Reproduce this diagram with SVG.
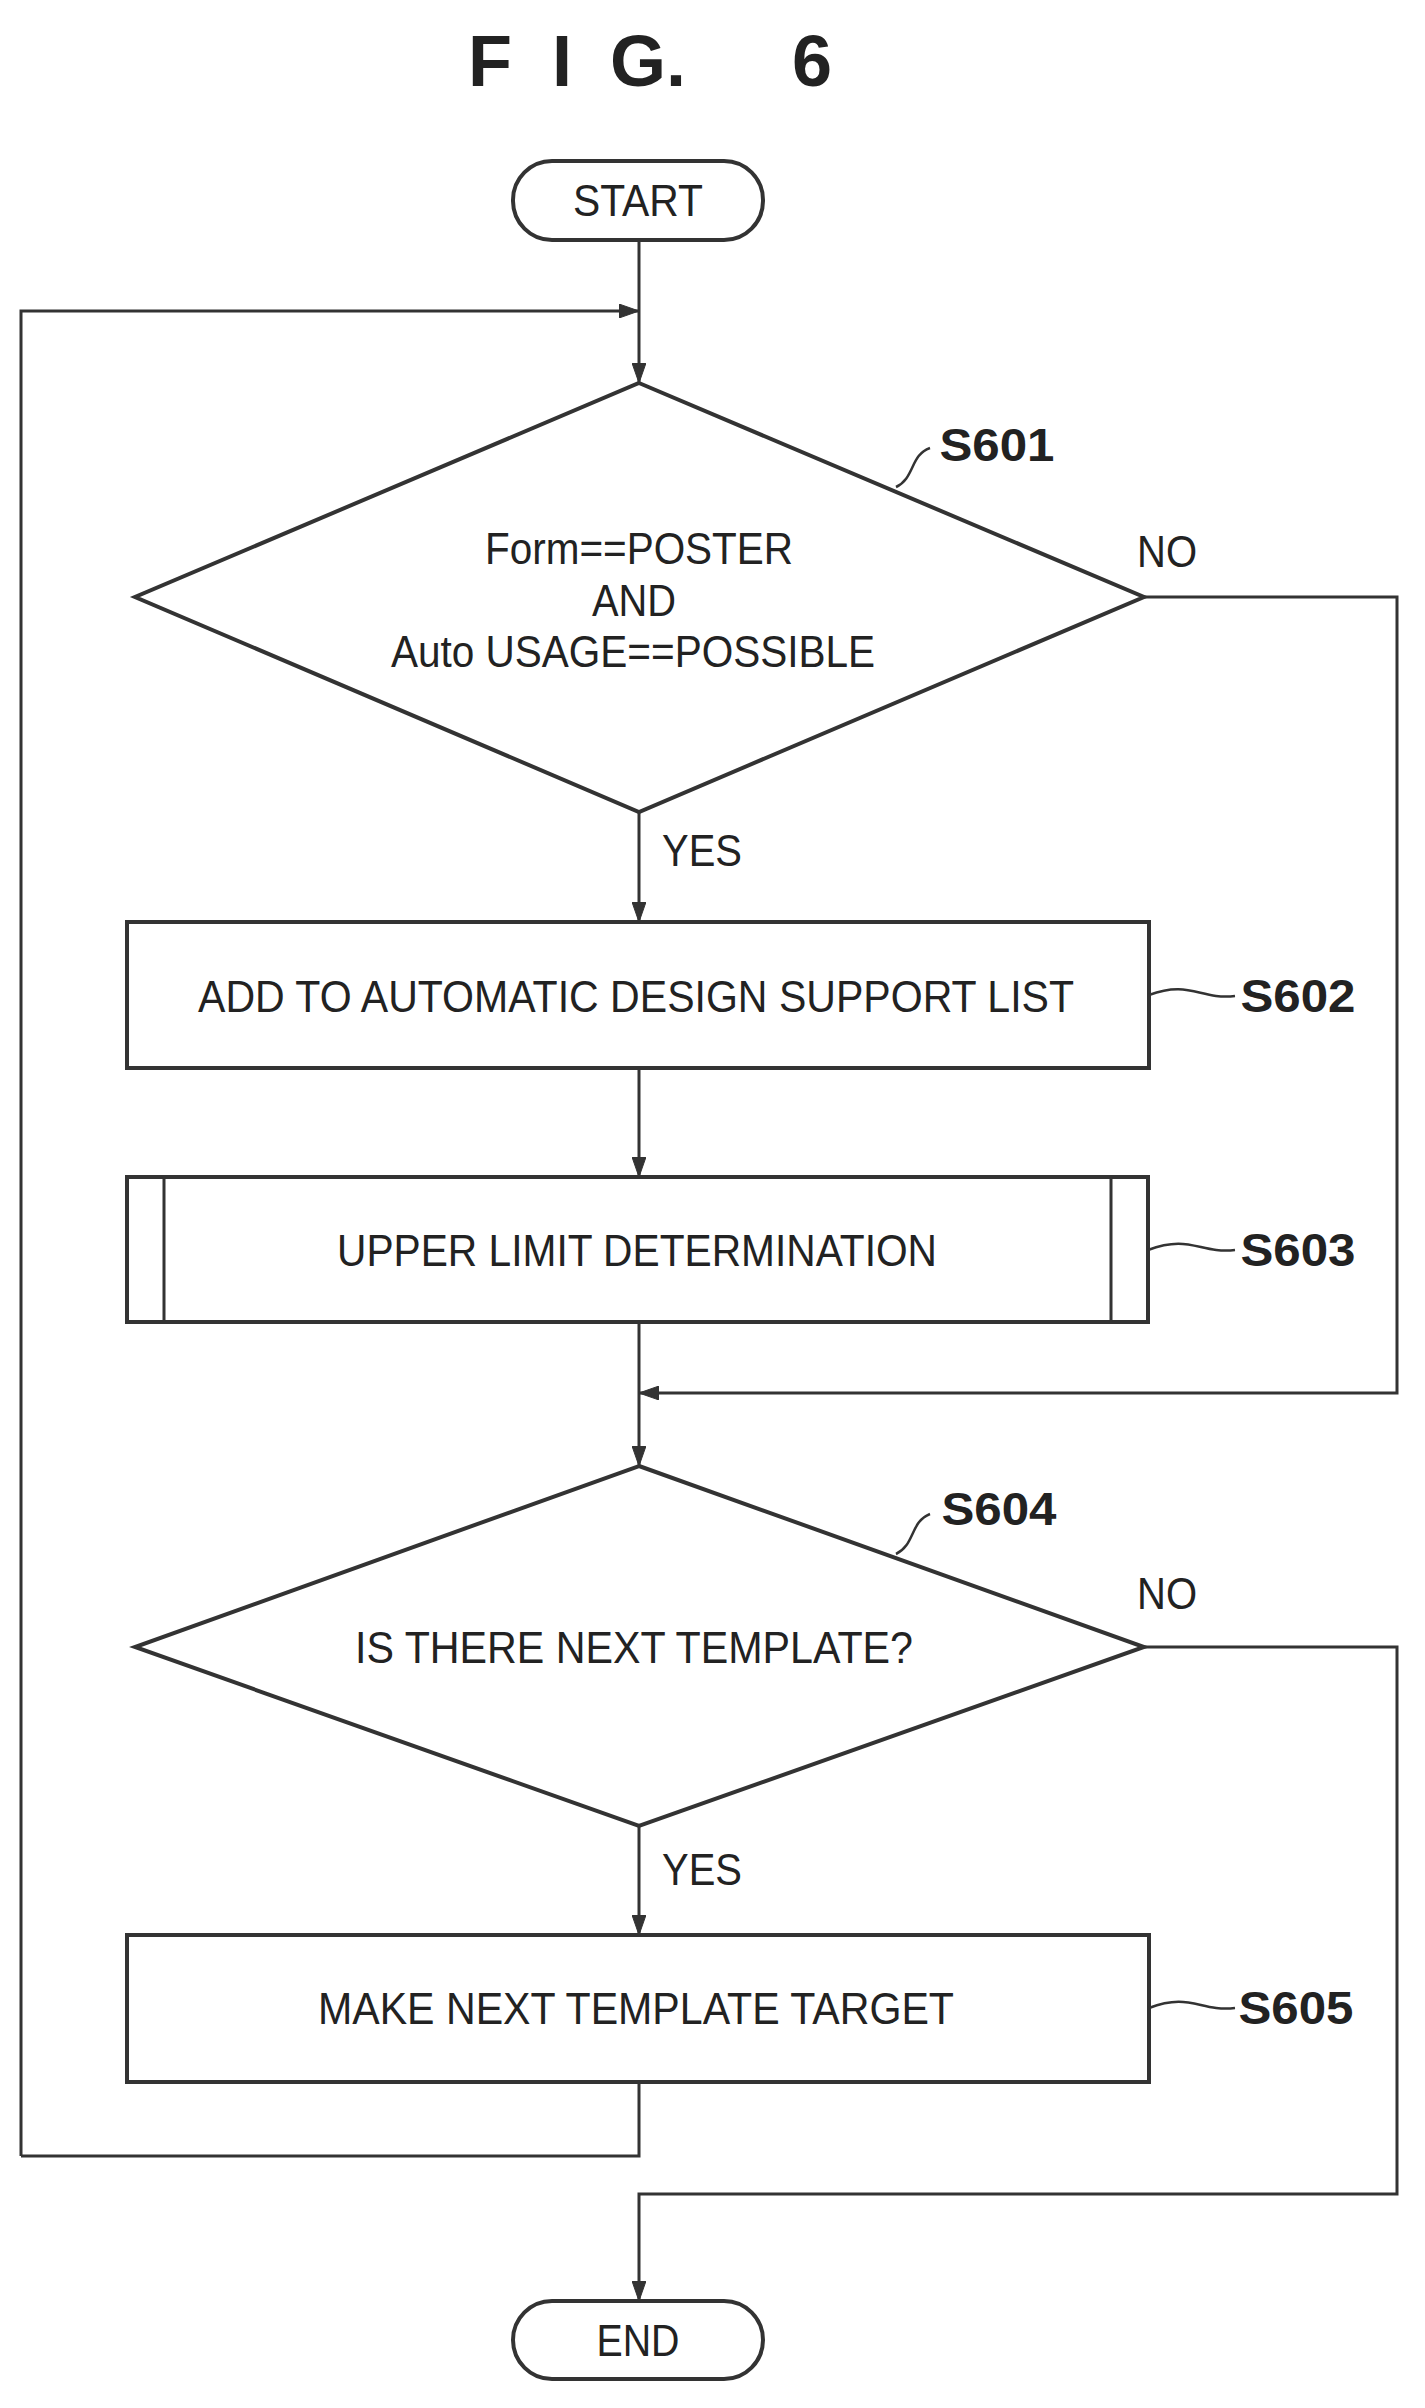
<svg xmlns="http://www.w3.org/2000/svg" width="1425" height="2408" viewBox="0 0 1425 2408">
<defs>
<marker id="ah" viewBox="0 0 20 14" refX="20" refY="7" markerWidth="20" markerHeight="14" markerUnits="userSpaceOnUse" orient="auto">
<path d="M0,0 L20,7 L0,14 Z" fill="#333" stroke="#333" stroke-width="1"/>
</marker>
<style>
.s{fill:none;stroke:#333;stroke-width:3}
.n{fill:#fff;stroke:#333;stroke-width:4}
.t{font-family:"Liberation Sans",Arial,sans-serif;font-size:44px;fill:#222;text-anchor:middle}
.b{font-family:"Liberation Sans",Arial,sans-serif;font-size:46px;font-weight:bold;fill:#222;text-anchor:middle}
.c{fill:none;stroke:#333;stroke-width:2.5}
</style>
</defs>
<rect width="1425" height="2408" fill="#fff"/>
<text x="490" y="86" class="b" style="font-size:72px">F</text>
<text x="562" y="86" class="b" style="font-size:72px">I</text>
<text x="648" y="86" class="b" style="font-size:72px">G.</text>
<text x="812" y="86" class="b" style="font-size:72px">6</text>
<g id="connectors">
<path class="s" d="M639,240 V383" marker-end="url(#ah)"/>
<path class="s" d="M21,2156 V311 H639" marker-end="url(#ah)"/>
<path class="s" d="M639,812 V922" marker-end="url(#ah)"/>
<path class="s" d="M639,1068 V1177" marker-end="url(#ah)"/>
<path class="s" d="M639,1322 V1466" marker-end="url(#ah)"/>
<path class="s" d="M1144,597 H1397 V1393 H639" marker-end="url(#ah)"/>
<path class="s" d="M639,1826 V1935" marker-end="url(#ah)"/>
<path class="s" d="M639,2082 V2156 H21"/>
<path class="s" d="M1144,1647 H1397 V2194 H639 V2301" marker-end="url(#ah)"/>
<text x="1167" y="567" class="t" textLength="60" lengthAdjust="spacingAndGlyphs">NO</text>
<text x="702" y="866" class="t" textLength="80" lengthAdjust="spacingAndGlyphs">YES</text>
<text x="1167" y="1609" class="t" textLength="60" lengthAdjust="spacingAndGlyphs">NO</text>
<text x="702" y="1885" class="t" textLength="80" lengthAdjust="spacingAndGlyphs">YES</text>
</g>
<g id="start">
<rect x="513" y="161" width="250" height="79" rx="39" class="n"/>
<text x="638" y="216" class="t" textLength="130" lengthAdjust="spacingAndGlyphs">START</text>
</g>
<g id="s601">
<polygon points="639,383 1144,597 639,812 135,597" class="n"/>
<text x="639" y="564" class="t" textLength="308" lengthAdjust="spacingAndGlyphs">Form==POSTER</text>
<text x="634" y="616" class="t" textLength="84" lengthAdjust="spacingAndGlyphs">AND</text>
<text x="633" y="667" class="t" textLength="484" lengthAdjust="spacingAndGlyphs">Auto USAGE==POSSIBLE</text>
<path class="c" d="M896,487 C915,478 910,455 930,448"/>
<text x="997" y="461" class="b" textLength="115" lengthAdjust="spacingAndGlyphs">S601</text>
</g>
<g id="s602">
<rect x="127" y="922" width="1022" height="146" class="n"/>
<text x="636" y="1012" class="t" textLength="876" lengthAdjust="spacingAndGlyphs">ADD TO AUTOMATIC DESIGN SUPPORT LIST</text>
<path class="c" d="M1149,995 C1190,980 1200,1000 1235,996"/>
<text x="1298" y="1012" class="b" textLength="115" lengthAdjust="spacingAndGlyphs">S602</text>
</g>
<g id="s603">
<rect x="127" y="1177" width="1021" height="145" class="n"/>
<path class="s" d="M164,1177 V1322 M1111,1177 V1322"/>
<text x="637" y="1266" class="t" textLength="600" lengthAdjust="spacingAndGlyphs">UPPER LIMIT DETERMINATION</text>
<path class="c" d="M1148,1250 C1190,1234 1200,1254 1235,1250"/>
<text x="1298" y="1266" class="b" textLength="115" lengthAdjust="spacingAndGlyphs">S603</text>
</g>
<g id="s604">
<polygon points="639,1466 1144,1647 639,1826 135,1647" class="n"/>
<text x="634" y="1663" class="t" textLength="558" lengthAdjust="spacingAndGlyphs">IS THERE NEXT TEMPLATE?</text>
<path class="c" d="M896,1554 C915,1545 910,1522 930,1514"/>
<text x="999" y="1525" class="b" textLength="115" lengthAdjust="spacingAndGlyphs">S604</text>
</g>
<g id="s605">
<rect x="127" y="1935" width="1022" height="147" class="n"/>
<text x="636" y="2024" class="t" textLength="636" lengthAdjust="spacingAndGlyphs">MAKE NEXT TEMPLATE TARGET</text>
<path class="c" d="M1149,2008 C1190,1992 1200,2012 1235,2008"/>
<text x="1296" y="2024" class="b" textLength="115" lengthAdjust="spacingAndGlyphs">S605</text>
</g>
<g id="end">
<rect x="513" y="2301" width="250" height="78" rx="39" class="n"/>
<text x="638" y="2356" class="t" textLength="83" lengthAdjust="spacingAndGlyphs">END</text>
</g>
</svg>
